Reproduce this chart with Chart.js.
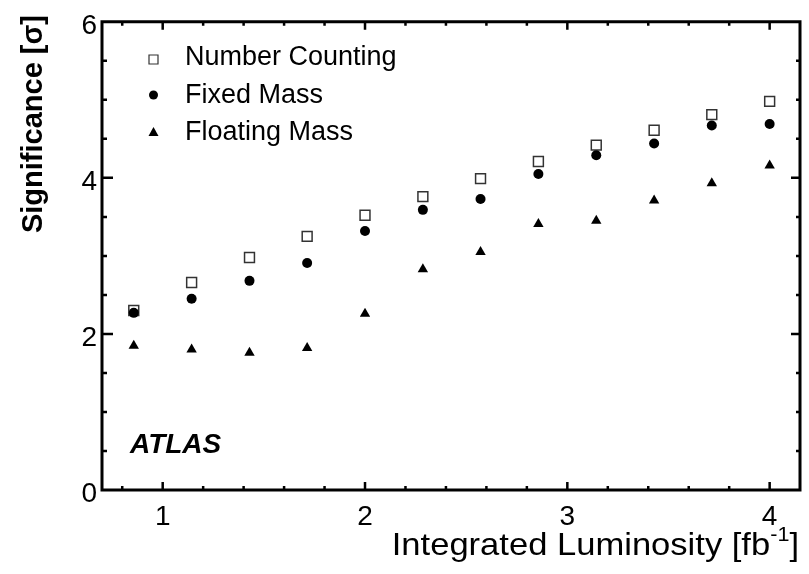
<!DOCTYPE html>
<html>
<head>
<meta charset="utf-8">
<script src="https://cdn.jsdelivr.net/npm/chart.js@4/dist/chart.umd.min.js"></script>
<style>
  html, body { margin: 0; padding: 0; background: #fff; }
  #wrap { width: 809px; height: 574px; }
</style>
</head>
<body>
<div id="wrap"><canvas id="sigChart" width="809" height="574"></canvas></div>
<script>
// luminosity points (fb^-1)
const lumi = [0.857, 1.143, 1.429, 1.714, 2.0, 2.286, 2.571, 2.857, 3.143, 3.429, 3.714, 4.0];
// significance for each method
const numberCounting = [2.30, 2.66, 2.98, 3.25, 3.52, 3.76, 3.99, 4.21, 4.42, 4.61, 4.81, 4.98];
const fixedMass = [2.27, 2.45, 2.68, 2.91, 3.32, 3.59, 3.73, 4.05, 4.29, 4.44, 4.67, 4.69];
const floatingMass = [1.85, 1.80, 1.76, 1.82, 2.26, 2.83, 3.05, 3.41, 3.45, 3.71, 3.93, 4.16];
// axis tick labels
const xTicks = [1, 2, 3, 4];
const yTicks = [0, 2, 4, 6];

const toPoints = (ys) => ys.map((y, i) => ({ x: lumi[i], y: y }));

const FONT = '"Liberation Sans", Arial, sans-serif';

// frame, inward ticks, titles and legend drawn on top of the chart
const atlasDecor = {
  id: 'atlasDecor',
  afterDraw(chart) {
    const ctx = chart.ctx;
    const a = chart.chartArea;
    const xs = chart.scales.x;
    const ys = chart.scales.y;
    ctx.save();
    ctx.strokeStyle = '#000';

    // ticks on all four sides
    ctx.lineWidth = 2.5;
    const xMinor = [];
    for (let v = 0.8; v < 4.15; v += 0.2) xMinor.push(Math.round(v * 10) / 10);
    xMinor.forEach(v => {
      const px = xs.getPixelForValue(v);
      const major = xTicks.includes(v);
      const len = major ? 8 : 4;
      ctx.beginPath();
      ctx.moveTo(px, a.bottom); ctx.lineTo(px, a.bottom - len);
      ctx.moveTo(px, a.top); ctx.lineTo(px, a.top + len);
      ctx.stroke();
    });
    for (let v = 0.5; v < 6; v += 0.5) {
      const py = ys.getPixelForValue(v);
      const major = yTicks.includes(v);
      ctx.beginPath();
      ctx.moveTo(a.left, py); ctx.lineTo(a.left + (major ? 11 : 5), py);
      ctx.moveTo(a.right, py); ctx.lineTo(a.right - (major ? 9 : 4), py);
      ctx.stroke();
    }

    // frame
    ctx.lineWidth = 3;
    ctx.beginPath();
    ctx.rect(a.left, a.top, a.right - a.left, a.bottom - a.top);
    ctx.stroke();

    ctx.fillStyle = '#000';
    // y title
    ctx.save();
    ctx.translate(42, 15);
    ctx.rotate(-Math.PI / 2);
    ctx.font = 'bold 29px ' + FONT;
    ctx.textAlign = 'right';
    ctx.textBaseline = 'alphabetic';
    ctx.fillText('Significance [σ]', 0, 0);
    ctx.restore();

    // x title with superscript, a bit wide like the original
    ctx.save();
    ctx.textBaseline = 'alphabetic';
    ctx.textAlign = 'left';
    const main = 'Integrated Luminosity [fb';
    const sup = '-1';
    const end = ']';
    ctx.font = '32px ' + FONT;
    const wMain = ctx.measureText(main).width;
    const wEnd = ctx.measureText(end).width;
    ctx.font = '20px ' + FONT;
    const wSup = ctx.measureText(sup).width;
    const sx = 1.08;
    ctx.translate(799, 555);
    ctx.scale(sx, 1);
    const tx = -(wMain + wSup + wEnd);
    ctx.font = '32px ' + FONT;
    ctx.fillText(main, tx, 0);
    ctx.font = '20px ' + FONT;
    ctx.fillText(sup, tx + wMain, -14);
    ctx.font = '32px ' + FONT;
    ctx.fillText(end, tx + wMain + wSup, 0);
    ctx.restore();

    // ATLAS label
    ctx.font = 'italic bold 28px ' + FONT;
    ctx.textAlign = 'left';
    ctx.fillText('ATLAS', 130, 453);

    // legend
    const rows = [65, 103, 140];
    ctx.font = '27px ' + FONT;
    chart.data.datasets.forEach((ds, i) => {
      const cy = rows[i] - 8;
      ctx.fillStyle = '#000';
      ctx.fillText(ds.label, 185, rows[i]);
      ctx.lineWidth = 1.2;
      ctx.beginPath();
      if (ds.pointStyle === 'rect') {
        ctx.fillStyle = '#fff';
        ctx.strokeStyle = '#333';
        ctx.rect(149, cy - 2, 9, 9);
        ctx.fill();
        ctx.stroke();
      } else if (ds.pointStyle === 'circle') {
        ctx.arc(153.5, cy, 4.5, 0, Math.PI * 2);
        ctx.fill();
      } else {
        ctx.moveTo(153.5, cy - 5);
        ctx.lineTo(158.5, cy + 4);
        ctx.lineTo(148.5, cy + 4);
        ctx.closePath();
        ctx.fill();
      }
    });
    ctx.restore();
  }
};

const ctx = document.getElementById('sigChart').getContext('2d');
new Chart(ctx, {
  type: 'scatter',
  data: {
    datasets: [
      {
        label: 'Number Counting',
        data: toPoints(numberCounting),
        pointStyle: 'rect',
        pointRadius: 7,
        backgroundColor: '#fff',
        borderColor: '#333',
        borderWidth: 1.5,
        order: 2
      },
      {
        label: 'Fixed Mass',
        data: toPoints(fixedMass),
        pointStyle: 'circle',
        pointRadius: 5,
        backgroundColor: '#000',
        borderColor: '#000',
        borderWidth: 0,
        order: 1
      },
      {
        label: 'Floating Mass',
        data: toPoints(floatingMass),
        pointStyle: 'triangle',
        pointRadius: 6,
        backgroundColor: '#000',
        borderColor: '#000',
        borderWidth: 0,
        order: 3
      }
    ]
  },
  options: {
    responsive: false,
    animation: false,
    layout: { padding: { top: 15, right: 9, left: 0, bottom: 0 } },
    plugins: {
      legend: { display: false },
      tooltip: { enabled: false }
    },
    scales: {
      x: {
        type: 'linear',
        min: 0.7,
        max: 4.15,
        grid: { display: false, drawTicks: false },
        border: { display: false },
        afterFit: (s) => { s.height = 84; },
        afterBuildTicks: (s) => { s.ticks = xTicks.map(v => ({ value: v })); },
        ticks: {
          color: '#000',
          padding: 10,
          font: { family: FONT, size: 28 },
          callback: (v) => String(v)
        }
      },
      y: {
        type: 'linear',
        min: 0,
        max: 6,
        grid: { display: false, drawTicks: false },
        border: { display: false },
        afterFit: (s) => { s.width = 102; },
        afterBuildTicks: (s) => { s.ticks = yTicks.map(v => ({ value: v })); },
        ticks: {
          color: '#000',
          padding: 5,
          labelOffset: 4,
          font: { family: FONT, size: 28 },
          callback: (v) => String(v)
        }
      }
    }
  },
  plugins: [atlasDecor]
});
</script>
</body>
</html>
